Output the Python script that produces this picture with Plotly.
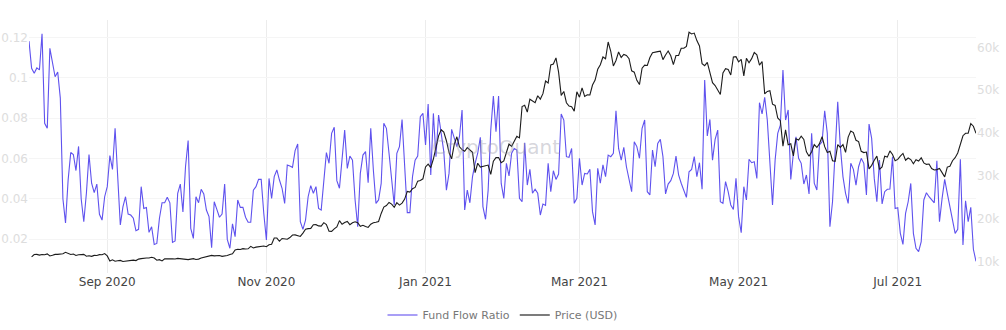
import pandas as pd
import plotly.graph_objects as go

# Daily series: fund flow ratio (left axis) and BTC price in USD (right axis)
flow_start = "2020-08-02"
price_start = "2020-08-03"

fund_flow_ratio = [
    0.1183, 0.1048, 0.1023, 0.105, 0.104, 0.122, 0.0775, 0.075, 0.1147, 0.108,
    0.1006, 0.103, 0.09, 0.04, 0.028, 0.0493, 0.063, 0.062, 0.054, 0.066,
    0.04, 0.0286, 0.0427, 0.062, 0.0477, 0.043, 0.0473, 0.0323, 0.0294, 0.041,
    0.046, 0.0614, 0.0546, 0.075, 0.0493, 0.027, 0.036, 0.041, 0.0324, 0.0319,
    0.0303, 0.0241, 0.0248, 0.046, 0.0352, 0.0357, 0.0233, 0.0261, 0.0173, 0.0178,
    0.0303, 0.038, 0.038, 0.0407, 0.038, 0.0183, 0.019, 0.0427, 0.0473, 0.0334,
    0.056, 0.0689, 0.0253, 0.0203, 0.041, 0.038, 0.0447, 0.0424, 0.0344, 0.0311,
    0.0157, 0.0385, 0.0347, 0.0308, 0.0324, 0.0473, 0.0198, 0.0154, 0.0275, 0.0212,
    0.0394, 0.0357, 0.0357, 0.0308, 0.0283, 0.0283, 0.0443, 0.046, 0.0496, 0.0496,
    0.0327, 0.0195, 0.0501, 0.0402, 0.051, 0.0543, 0.0493, 0.0452, 0.0377, 0.0568,
    0.0563, 0.0556, 0.0639, 0.0672, 0.0286, 0.0248, 0.0294, 0.041, 0.0465, 0.0427,
    0.046, 0.0352, 0.0344, 0.0493, 0.0629, 0.0576, 0.0725, 0.0755, 0.049, 0.0452,
    0.0601, 0.0741, 0.0551, 0.0612, 0.0592, 0.0394, 0.0261, 0.0526, 0.0617, 0.0634,
    0.048, 0.075, 0.0543, 0.0377, 0.0394, 0.0476, 0.0775, 0.075, 0.0626, 0.0493,
    0.0369, 0.0626, 0.0659, 0.0794, 0.0576, 0.0331, 0.0331, 0.051, 0.0592, 0.0612,
    0.0808, 0.0824, 0.0667, 0.0871, 0.0518, 0.0824, 0.0609, 0.0816, 0.0725, 0.0634,
    0.0443, 0.0526, 0.0745, 0.0705, 0.0659, 0.0708, 0.0841, 0.0344, 0.0443, 0.038,
    0.051, 0.0576, 0.0626, 0.0705, 0.0361, 0.0298, 0.0443, 0.0741, 0.091, 0.0733,
    0.091, 0.0476, 0.0402, 0.0576, 0.0513, 0.0626, 0.065, 0.0642, 0.0402, 0.0385,
    0.0678, 0.0468, 0.0546, 0.0427, 0.0447, 0.0427, 0.0319, 0.0374, 0.0367, 0.0576,
    0.0435, 0.0539, 0.0496, 0.0523, 0.0821, 0.0791, 0.0609, 0.0606, 0.065, 0.0377,
    0.0402, 0.0601, 0.0468, 0.0526, 0.0523, 0.0546, 0.0336, 0.027, 0.0551, 0.0477,
    0.0568, 0.051, 0.0617, 0.0609, 0.0626, 0.0837, 0.065, 0.0592, 0.0655, 0.0559,
    0.0493, 0.0435, 0.0683, 0.0659, 0.0601, 0.075, 0.0791, 0.0435, 0.0419, 0.0642,
    0.0559, 0.0675, 0.0695, 0.0609, 0.0424, 0.0473, 0.049, 0.0526, 0.0612, 0.0518,
    0.0477, 0.044, 0.0407, 0.0534, 0.0546, 0.0609, 0.051, 0.0579, 0.0447, 0.099,
    0.0712, 0.0794, 0.0592, 0.0695, 0.0741, 0.0385, 0.0377, 0.0485, 0.0435, 0.0369,
    0.0347, 0.0501, 0.0311, 0.0231, 0.046, 0.0394, 0.0596, 0.0579, 0.0584, 0.0501,
    0.0877, 0.0821, 0.0904, 0.0791, 0.0592, 0.0369, 0.0592, 0.0725, 0.0766, 0.1039,
    0.0791, 0.0841, 0.0496, 0.0626, 0.0708, 0.0601, 0.0576, 0.0473, 0.0518, 0.0424,
    0.0725, 0.0477, 0.0443, 0.0667, 0.0683, 0.0837, 0.0725, 0.0261, 0.0385, 0.0642,
    0.0882, 0.0659, 0.051, 0.0427, 0.0377, 0.0576, 0.0546, 0.0468, 0.0559, 0.0601,
    0.0576, 0.0419, 0.0771, 0.07, 0.0501, 0.0385, 0.0592, 0.0374, 0.0435, 0.0447,
    0.0448, 0.0609, 0.0352, 0.0356, 0.0228, 0.0173, 0.0327, 0.0385, 0.0476, 0.0228,
    0.0154, 0.0137, 0.0187, 0.0394, 0.043, 0.041, 0.0397, 0.038, 0.0589, 0.0286,
    0.0402, 0.0496, 0.0427, 0.0361, 0.0294, 0.0228, 0.0248, 0.0596, 0.017, 0.039,
    0.0286, 0.0357, 0.0149, 0.0089,
]

price_usd = [
    # Aug 2020
    11200, 11750, 11780, 11600, 11750, 11680, 11880, 11410, 11580, 11780,
    11770, 11870, 11910, 12250, 11990, 11760, 11870, 11520, 11680, 11660,
    11770, 11340, 11470, 11320, 11540, 11510, 11710, 11680,
    # Sep 2020
    11970, 11410, 10250, 10510, 10170, 10280, 10370, 10130, 10240, 10360,
    10400, 10440, 10330, 10680, 10790, 10950, 10950, 10930, 11090, 10920,
    10420, 10540, 10250, 10740, 10690, 10730, 10770, 10700, 10840, 10780,
    # Oct 2020
    10620, 10570, 10550, 10670, 10790, 10600, 10670, 10920, 11060, 11300,
    11380, 11550, 11430, 11430, 11500, 11320, 11370, 11500, 11750, 11920,
    12820, 12970, 12930, 13120, 13030, 13070, 13640, 13270, 13460, 13560, 13800,
    # Nov 2020
    13740, 13550, 14030, 14140, 15590, 15580, 14830, 15480, 15330, 15300,
    15700, 16280, 16320, 16070, 15960, 16730, 17650, 17780, 17820, 18680,
    18700, 18410, 18360, 19160, 18720, 17150, 17140, 17720, 18180, 19630,
    # Dec 2020
    18800, 19200, 19450, 18700, 19150, 19360, 19170, 18320, 18550, 18260,
    18060, 18800, 19140, 19250, 19440, 21310, 22800, 23140, 23870, 23480,
    22750, 23820, 23250, 23720, 24660, 26440, 26270, 27080, 27360, 28840, 29000,
    # Jan 2021
    29370, 32130, 32780, 31970, 33990, 36820, 39370, 40800, 40250, 38240,
    35540, 34010, 37390, 39160, 36820, 36180, 35790, 36630, 36070, 35550,
    30820, 33000, 32100, 32290, 32370, 32570, 30430, 33470, 34320, 34320, 33110,
    # Feb 2021
    33540, 35510, 37470, 36930, 38290, 39270, 38900, 46200, 46480, 44920,
    47910, 47500, 47110, 48720, 47940, 49200, 52150, 51680, 55890, 56100,
    57540, 54210, 48820, 49710, 47090, 46340, 46190, 45140,
    # Mar 2021
    49630, 48380, 50540, 48560, 48930, 48910, 51210, 52380, 54880, 55960,
    57750, 57330, 61240, 59030, 55650, 56930, 58920, 57640, 58350, 58090,
    57350, 54530, 54210, 52300, 51320, 55140, 55840, 55780, 57630, 58730, 58920,
    # Apr 2021
    58990, 59100, 57130, 58220, 59130, 58040, 55950, 58080, 58090, 59770,
    59790, 60200, 63500, 63110, 63310, 61570, 60310, 56200, 55720, 56470,
    53910, 51760, 51090, 50050, 49000, 54020, 55030, 54820, 53560, 57750,
    # May 2021
    57830, 56630, 57200, 53330, 57420, 56400, 57360, 58800, 58230, 55860,
    56700, 49150, 49720, 49880, 46760, 46460, 43540, 42910, 37000, 40780,
    37300, 37530, 34700, 38710, 38400, 39290, 38530, 35660, 34610, 35680, 37330,
    # Jun 2021
    36680, 37570, 39190, 36870, 35520, 35800, 33590, 33470, 37350, 36700,
    37330, 35550, 39100, 40520, 40140, 38350, 38050, 35790, 35480, 35600,
    31680, 32510, 33680, 34660, 31590, 32160, 34640, 34430, 35870, 35040,
    # Jul 2021
    33570, 33900, 34670, 35290, 33690, 34220, 33860, 32880, 33820, 33520,
    34260, 33090, 32730, 32820, 31780, 31420, 31520, 31780, 30820, 29810,
    32110, 32310, 33580, 34290, 35380, 37340, 39410, 39990, 40010, 42240,
    41630, 39970,
]

flow_dates = pd.date_range(flow_start, periods=len(fund_flow_ratio), freq="D")
price_dates = pd.date_range(price_start, periods=len(price_usd), freq="D")

FLOW_COLOR = "#5f52ee"
PRICE_COLOR = "#1c1c1c"
FONT = "DejaVu Sans, Verdana, sans-serif"

fig = go.Figure()
fig.add_trace(go.Scatter(
    x=flow_dates, y=fund_flow_ratio, mode="lines", name="Fund Flow Ratio",
    line=dict(color=FLOW_COLOR, width=1.1), showlegend=False,
))
fig.add_trace(go.Scatter(
    x=price_dates, y=price_usd, mode="lines", name="Price (USD)", yaxis="y2",
    line=dict(color=PRICE_COLOR, width=1.1), showlegend=False,
))
# Legend entries drawn with softened swatches
fig.add_trace(go.Scatter(
    x=[None], y=[None], mode="lines", name="Fund Flow Ratio",
    line=dict(color="#a99ff6", width=2),
))
fig.add_trace(go.Scatter(
    x=[None], y=[None], mode="lines", name="Price (USD)",
    line=dict(color="#7c7c7c", width=2),
))

# Faint brand watermark in the middle of the plot
fig.add_annotation(
    text="CryptoQuant", xref="paper", yref="paper", x=0.493, y=0.498,
    showarrow=False, font=dict(family=FONT, size=20, color="rgba(150,150,165,0.4)"),
)

fig.update_layout(
    width=1006, height=330,
    margin=dict(l=29, r=30, t=20, b=57, autoexpand=False),
    paper_bgcolor="white", plot_bgcolor="white",
    font=dict(family=FONT, size=12, color="#444"),
    showlegend=True,
    xaxis=dict(
        type="date", range=[flow_dates[0], price_dates[-1]], automargin=False,
        tick0="2020-09-01", dtick="M2", tickformat="%b %Y",
        showgrid=True, gridcolor="#ececec", gridwidth=1,
        zeroline=False, showline=False, ticks="",
        tickfont=dict(family=FONT, size=12, color="#444"),
    ),
    yaxis=dict(
        range=[0.00311, 0.1288], tick0=0, dtick=0.02, automargin=False,
        showgrid=True, gridcolor="#f5f5f5", zeroline=False, showline=False,
        ticks="", tickfont=dict(family=FONT, size=12, color="#dddddd"),
    ),
    yaxis2=dict(
        overlaying="y", side="right", range=[7440, 66360], automargin=False,
        tick0=0, dtick=10000, tickformat="~s",
        showgrid=False, zeroline=False, showline=False, ticks="",
        tickfont=dict(family=FONT, size=12, color="#dddddd"),
    ),
    legend=dict(
        orientation="h", x=0.5, xanchor="center", y=-0.166, yanchor="middle",
        font=dict(family=FONT, size=11, color="#777777"),
        bgcolor="rgba(0,0,0,0)",
    ),
)

fig.write_html("out.html")
